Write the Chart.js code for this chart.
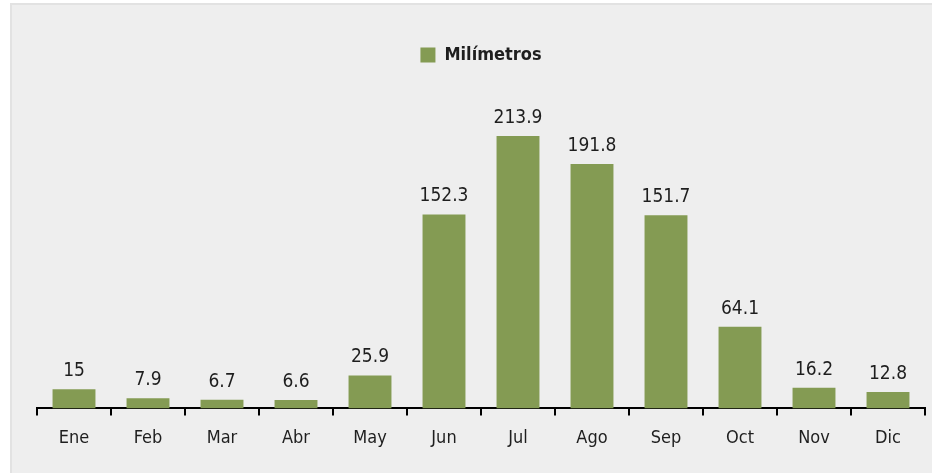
<!DOCTYPE html>
<html>
<head>
<meta charset="utf-8">
<script src="https://cdn.jsdelivr.net/npm/chart.js@4/dist/chart.umd.min.js"></script>
<style>
  html, body { margin: 0; padding: 0; background: #ffffff; }
  #wrap { position: absolute; left: 10px; top: 3px; width: 920px; height: 468px;
          background: #eeeeee; border-left: 2px solid #e2e2e2; border-top: 2px solid #e2e2e2; }
  canvas { display: block; }
</style>
</head>
<body>
<div id="wrap"><canvas id="c" width="920" height="468"></canvas></div>
<script>
const categories = ["Ene","Feb","Mar","Abr","May","Jun","Jul","Ago","Sep","Oct","Nov","Dic"];
const milimetros = [15, 7.9, 6.7, 6.6, 25.9, 152.3, 213.9, 191.8, 151.7, 64.1, 16.2, 12.8];
const seriesName = "Milímetros";

const FONT = "'Liberation Sans Narrow', 'DejaVu Sans Condensed', 'Arial Narrow', sans-serif";

const valueLabels = {
  id: 'valueLabels',
  afterDatasetsDraw(chart) {
    const ctx = chart.ctx;
    const meta = chart.getDatasetMeta(0);
    ctx.save();
    ctx.font = "19px " + FONT;
    ctx.fillStyle = "#1e1e1e";
    ctx.textAlign = "center";
    ctx.textBaseline = "alphabetic";
    meta.data.forEach((bar, i) => {
      ctx.fillText(String(chart.data.datasets[0].data[i]), bar.x, bar.y - 13);
    });
    ctx.restore();
  }
};

const legendSpace = {
  id: 'legendSpace',
  beforeInit(chart) {
    const origFit = chart.legend.fit;
    chart.legend.fit = function() {
      origFit.call(this);
      this.height += 16;
    };
  }
};

new Chart(document.getElementById('c'), {
  type: 'bar',
  data: {
    labels: categories,
    datasets: [{
      label: seriesName,
      data: milimetros,
      backgroundColor: '#849b53',
      borderWidth: 0,
      categoryPercentage: 1.0,
      barPercentage: 0.58
    }]
  },
  options: {
    responsive: false,
    animation: false,
    devicePixelRatio: 1,
    layout: { padding: { left: 25, right: 7, top: 29, bottom: 12 } },
    plugins: {
      legend: {
        position: 'top',
        labels: {
          boxWidth: 15, boxHeight: 15, padding: 12,
          color: '#1e1e1e',
          font: { family: FONT, size: 18, weight: 'bold' }
        }
      },
      tooltip: { enabled: false }
    },
    scales: {
      x: {
        grid: { display: true, drawOnChartArea: false, drawTicks: true, tickLength: 7, color: '#000', lineWidth: 2, offset: true },
        border: { display: true, color: '#000', width: 2 },
        ticks: { color: '#1e1e1e', padding: 12, font: { family: FONT, size: 18 } }
      },
      y: {
        display: false,
        min: 0, max: 250
      }
    }
  },
  plugins: [valueLabels, legendSpace]
});
</script>
</body>
</html>
